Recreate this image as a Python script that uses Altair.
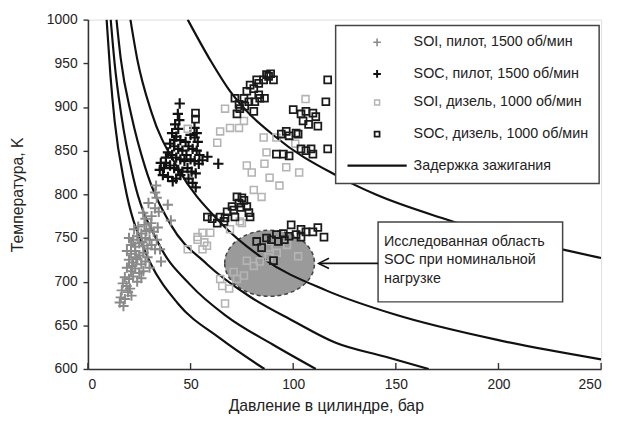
import altair as alt
import pandas as pd

FONT = "Liberation Sans, Arial, sans-serif"

# ---------------- ignition-delay curves ----------------
curve_a_x = [9.1, 11.0, 13.0, 18.0, 26.9, 30.3, 43.8, 64.4, 86.0]
curve_a_t = [1000, 935, 884, 810, 740, 722, 675, 635, 600]
curve_b_x = [11.1, 13.0, 16.3, 22.0, 34.1, 50.0, 67.8, 90.0, 111.0]
curve_b_t = [1000, 950, 890, 820, 745, 696, 660, 628, 600]
curve_c_x = [13.9, 16.0, 21.2, 28.0, 40.4, 58.0, 78.8, 100.0, 120.7, 145.0, 166.0]
curve_c_t = [1000, 955, 890, 830, 765, 720, 683, 655, 630, 614, 600]
curve_d_x = [20.7, 24.0, 30.8, 43.8, 64.4, 85.6, 116.0, 150.0, 200.0, 250.0]
curve_d_t = [1000, 955, 895, 830, 768, 726, 690, 662, 633, 611]
curve_e_x = [48.6, 60.0, 69.2, 91.8, 120.7, 140.0, 173.6, 200.0, 231.0, 250.0]
curve_e_t = [1000, 952, 918, 865, 822, 800, 772, 753, 737, 727]

# ---------------- SOI, pilot, 1500 rpm (grey crosses) ----------------
soi_pilot_x = [33.2, 32.7, 33.5, 38.9, 40.4, 26.9, 30.8, 32.7, 29.5, 31.0, 28.0, 34.5, 30.0, 27.5, 32.0, 34.0,
               20, 22, 24, 26, 28, 30, 21, 23, 25, 27, 29, 31, 19, 21, 23, 25, 27, 29, 20, 22, 24, 26, 28, 30,
               19, 21, 23, 25, 27, 18, 20, 22, 24, 26, 17, 32.7, 35.1, 35.6, 33.5,
               18.8, 21.2, 17.3, 16.5, 19.5, 16.0, 18.0, 20.5, 15.5, 22.5, 24.5, 26.5, 28.5, 21.5, 23.5]
soi_pilot_t = [810, 802, 796, 788, 770, 779, 767, 784, 790, 775, 772, 780, 760, 765, 757, 762,
               750, 748, 752, 755, 750, 748, 742, 740, 744, 741, 738, 742, 735, 732, 735, 730, 733, 728, 725, 722, 726, 720, 723, 716,
               716, 712, 715, 710, 712, 705, 703, 706, 700, 704, 698, 737, 737, 723, 748,
               695, 684, 672, 690, 688, 682, 680, 692, 676, 760, 763, 745, 758, 718, 728]

# ---------------- SOC, pilot, 1500 rpm (black crosses) ----------------
soc_pilot_x = [44.7, 43.8, 42.5, 44.0, 41.0, 43.0, 45.0, 40.0, 42.0, 44.0, 46.0, 39.0, 41.0, 43.0, 45.0, 47.0,
               38.0, 40.0, 42.0, 44.0, 46.0, 37.0, 35.5, 36.5, 39.0, 41.3, 43.0, 45.0, 35.0, 38.0, 42.0, 44.5,
               51.9, 50.0, 52.0, 53.5, 49.0, 51.0, 53.0, 54.3, 48.0, 50.0, 52.0, 54.0, 48.5, 50.5, 52.5, 49.0,
               51.0, 52.5, 47.6, 53.0, 55.8, 58.2, 63.5]
soc_pilot_t = [904, 892, 880, 875, 870, 866, 862, 858, 855, 852, 850, 848, 845, 842, 840, 838,
               836, 833, 830, 828, 826, 830, 836, 822, 820, 815, 818, 822, 828, 842, 862, 885,
               876, 868, 865, 860, 855, 852, 850, 845, 845, 840, 838, 835, 830, 826, 824, 818,
               813, 808, 860, 870, 839, 843, 835]

# ---------------- SOI, diesel, 1000 rpm (light squares) ----------------
soi_diesel_x = [48.6, 66.8, 64.4, 63.0, 69.2, 73.6, 76.0, 85.6, 87.0, 91.8, 77.4, 79.8, 86.0, 96.6, 88.5, 93.3,
                80.8, 84.6, 102.9, 106.0, 101.0, 53.4, 59.6, 69.2, 75.0, 55.8, 48.6, 55.8, 56.7, 53.4, 58.0,
                77.4, 80.8, 83.7, 88.0, 71.0, 76.0, 64.4, 65.4, 68.8, 66.8, 72.6, 88.0, 102.4, 92.0, 97.0, 74.0]
soi_diesel_t = [875, 898, 872, 859, 876, 876, 884, 865, 848, 865, 833, 825, 835, 831, 819, 810,
                805, 797, 825, 909, 858, 751, 756, 760, 767, 756, 737, 737, 745, 748, 741,
                724, 718, 723, 728, 711, 707, 703, 695, 692, 675, 703, 739, 729, 733, 742, 769]

# ---------------- SOC, diesel, 1000 rpm (black squares) ----------------
soc_diesel_x = [71.6, 73.6, 77.4, 80.8, 83.2, 85.6, 88.0, 90.4, 87.0, 78.4, 81.3, 83.7, 76.4, 72.6, 80.8, 86.0,
                79.0, 82.2, 89.0, 76.0, 83.2, 74.0,
                100.0, 103.8, 106.2, 109.6, 111.0, 112.0, 104.8, 102.4, 96.6, 94.2, 98.0, 101.4, 91.8, 95.2,
                98.0, 103.8, 106.2, 108.7, 109.6, 116.8, 115.9, 116.8, 107.5,
                52.4, 52.4,
                58.2, 60.5, 63.0, 66.3, 64.4, 67.8, 70.2, 71.0, 73.6, 75.0, 72.6, 76.0, 77.4, 78.4, 79.0, 71.6,
                66.8, 74.5,
                82.2, 84.6, 89.4, 91.8, 92.8, 95.7, 95.2, 99.0, 98.0, 101.4, 103.8, 103.8, 106.2, 109.6, 112.0,
                115.0, 90.4, 87.0]
soc_diesel_t = [910, 903, 918, 921, 927, 931, 935, 931, 937, 906, 906, 910, 901, 892, 895, 910,
                925, 931, 938, 910, 914, 898,
                897, 892, 895, 893, 889, 878, 884, 869, 872, 869, 867, 870, 846, 846,
                844, 852, 850, 852, 846, 931, 906, 852, 880,
                893, 886,
                774, 772, 767, 769, 774, 780, 786, 782, 790, 796, 797, 793, 786, 779, 774, 774,
                773, 785,
                746, 739, 748, 754, 746, 748, 755, 765, 752, 754, 751, 760, 757, 757, 762,
                751, 724, 750]

# region of interest (ellipse centre)
region_x = [88.5]
region_t = [721]

x_ticks = [0, 50, 100, 150, 200, 250]
y_ticks = [600, 650, 700, 750, 800, 850, 900, 950, 1000]

legend_labels = ["SOI, пилот, 1500 об/мин", "SOC, пилот, 1500 об/мин",
                 "SOI, дизель, 1000 об/мин", "SOC, дизель, 1000 об/мин", "Задержка зажигания"]
note_lines = ["Исследованная область", "SOC при номинальной", "нагрузке"]

# ---------------- build tables ----------------
curves = []
for name, xs, ts in [("A", curve_a_x, curve_a_t), ("B", curve_b_x, curve_b_t), ("C", curve_c_x, curve_c_t),
                     ("D", curve_d_x, curve_d_t), ("E", curve_e_x, curve_e_t)]:
    for i, (x, t) in enumerate(zip(xs, ts)):
        curves.append({"curve": name, "p": x, "T": t, "i": i})
curves_df = pd.DataFrame(curves)

xscale = alt.Scale(domain=[0, 250], nice=False, zero=False)
yscale = alt.Scale(domain=[600, 1000], nice=False, zero=False)

xaxis = alt.Axis(values=x_ticks, format="d", tickSize=0, labelPadding=9, grid=False, domainColor="#333",
                 domainWidth=1.6, labelFontSize=14, labelFont=FONT, labelColor="#222",
                 title="Давление в цилиндре, бар", titleFont=FONT, titleFontSize=16,
                 titleFontWeight="normal", titleColor="#222", titleX=241, titleY=37,
                 titleBaseline="middle", titleAlign="center")
yaxis = alt.Axis(values=y_ticks, format="d", tickSize=5, tickColor="#333", tickWidth=1.4, labelPadding=6,
                 grid=False, domainColor="#333", domainWidth=1.6, labelFontSize=14, labelFont=FONT,
                 labelColor="#222", title="Температура, K", titleFont=FONT, titleFontSize=16,
                 titleFontWeight="normal", titleColor="#222", titleX=-71, titleY=177,
                 titleBaseline="middle", titleAlign="center", titleAngle=270)

ellipse_path = "M-1,0A1,0.736,0,1,1,1,0A1,0.736,0,1,1,-1,0Z"
cross_path = "M-1,0L1,0M0,-1L0,1"
arrow_path = "M1,-1L-1,0L1,1"

ellipse = alt.Chart(pd.DataFrame({"p": region_x, "T": region_t})).mark_point(
    shape=ellipse_path, size=8281, filled=True, fill="#9a9a9a", fillOpacity=1, stroke="#444",
    strokeWidth=1.5, strokeDash=[4, 3]
).encode(x=alt.X("p:Q", scale=xscale, axis=xaxis), y=alt.Y("T:Q", scale=yscale, axis=yaxis))

lines = alt.Chart(curves_df).mark_line(color="#111", strokeWidth=2.2, interpolate="monotone", clip=True).encode(
    x=alt.X("p:Q", scale=xscale), y=alt.Y("T:Q", scale=yscale), detail="curve:N", order="i:Q")

xt = alt.Chart(pd.DataFrame({"p": x_ticks})).mark_rule(color="#333", strokeWidth=1.4).encode(
    x=alt.X("p:Q", scale=xscale), y=alt.value(354), y2=alt.value(348))


def pts(xs, ts, shape, size, color, width):
    return alt.Chart(pd.DataFrame({"p": xs, "T": ts})).mark_point(
        shape=shape, size=size, filled=False, stroke=color, strokeWidth=width, opacity=1, clip=True
    ).encode(x=alt.X("p:Q", scale=xscale), y=alt.Y("T:Q", scale=yscale))


p1 = pts(soi_pilot_x, soi_pilot_t, cross_path, 110, "#8a8a8a", 2.0)
p2 = pts(soc_pilot_x, soc_pilot_t, cross_path, 110, "#111", 2.2)
p3 = pts(soi_diesel_x, soi_diesel_t, "square", 49, "#b4b4b4", 1.6)
p4 = pts(soc_diesel_x, soc_diesel_t, "square", 49, "#1a1a1a", 1.8)

one = pd.DataFrame({"a": [0]})

# legend box and entries
leg_box = alt.Chart(one).mark_rect(fill="white", stroke="#444", strokeWidth=1.5).encode(
    x=alt.value(251), x2=alt.value(518), y=alt.value(6), y2=alt.value(166))
leg_rows = [23, 55, 84, 116, 148]
leg_layers = [leg_box]
sym = [(cross_path, 60, "#8a8a8a", 1.6), (cross_path, 60, "#111", 2.0),
       ("square", 25, "#b4b4b4", 1.5), ("square", 25, "#1a1a1a", 1.8)]
for k in range(4):
    shp, sz, col, w = sym[k]
    leg_layers.append(alt.Chart(one).mark_point(shape=shp, size=sz, filled=False, stroke=col,
                                                strokeWidth=w, opacity=1).encode(
        x=alt.value(293), y=alt.value(leg_rows[k])))
leg_layers.append(alt.Chart(one).mark_rule(color="#111", strokeWidth=2.2).encode(
    x=alt.value(263), x2=alt.value(323), y=alt.value(leg_rows[4])))
for k in range(5):
    leg_layers.append(alt.Chart(pd.DataFrame({"t": [legend_labels[k]]})).mark_text(
        align="left", baseline="middle", font=FONT, fontSize=14.5, color="#222").encode(
        x=alt.value(330), y=alt.value(leg_rows[k]), text="t:N"))

# annotation box and arrow
note_box = alt.Chart(one).mark_rect(fill="white", stroke="#444", strokeWidth=1.5).encode(
    x=alt.value(294), x2=alt.value(481), y=alt.value(205), y2=alt.value(286))
note_layers = [note_box]
for k, yy in enumerate([225, 244, 263]):
    note_layers.append(alt.Chart(pd.DataFrame({"t": [note_lines[k]]})).mark_text(
        align="left", baseline="middle", font=FONT, fontSize=14.5, color="#222").encode(
        x=alt.value(300), y=alt.value(yy), text="t:N"))
arrow_line = alt.Chart(one).mark_rule(color="#111", strokeWidth=1.6).encode(
    x=alt.value(234), x2=alt.value(294), y=alt.value(247))
arrow_head = alt.Chart(one).mark_point(shape=arrow_path, size=110, filled=False, stroke="#111",
                                       strokeWidth=1.6, opacity=1).encode(
    x=alt.value(239), y=alt.value(247))

chart = alt.layer(
    ellipse, lines, xt, p1, p2, p3, p4, *leg_layers, *note_layers, arrow_line, arrow_head
).properties(
    width=520, height=354,
    autosize=alt.AutoSizeParams(type="none"),
    padding={"left": 81, "top": 9, "right": 9, "bottom": 55},
).configure_view(stroke=None).configure(background="white")

chart.save("out.html", embed_options={"renderer": "svg", "actions": False})
